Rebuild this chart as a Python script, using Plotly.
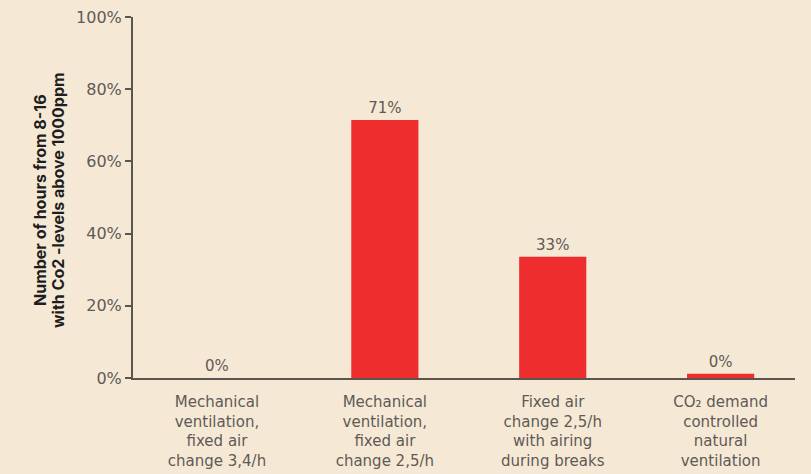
import plotly.graph_objects as go

categories = [
    "Mechanical<br>ventilation,<br>fixed air<br>change 3,4/h",
    "Mechanical<br>ventilation,<br>fixed air<br>change 2,5/h",
    "Fixed air<br>change 2,5/h<br>with airing<br>during breaks",
    "CO₂ demand<br>controlled<br>natural<br>ventilation",
]
values = [0, 71.5, 33.6, 1.2]
value_labels = ["0%", "71%", "33%", "0%"]
y_ticks = [0, 20, 40, 60, 80, 100]
y_tick_labels = ["0%", "20%", "40%", "60%", "80%", "100%"]
y_title_lines = ["Number of hours from 8-16", "with Co2 -levels above 1000ppm"]

BG = "#f5e9d5"
RED = "#ee2e2e"
GREY = "#5f5a55"
AXIS = "#5a554f"
FONT = "Inter, Roboto, sans-serif"
TXT_FONT = "'DejaVu Sans', Inter, sans-serif"

fig = go.Figure(
    go.Bar(
        x=list(range(len(categories))),
        y=values,
        text=value_labels,
        textposition="outside",
        cliponaxis=False,
        textfont=dict(size=15, color=GREY, family=TXT_FONT),
        marker=dict(color=RED, line=dict(width=0)),
        width=0.40,
    )
)

fig.update_layout(
    width=811,
    height=474,
    paper_bgcolor=BG,
    plot_bgcolor=BG,
    margin=dict(l=133, r=16, t=17, b=96, autoexpand=False),
    showlegend=False,
    font=dict(family=TXT_FONT, size=15, color=GREY),
)

fig.update_xaxes(
    tickmode="array",
    tickvals=list(range(len(categories))),
    ticktext=categories,
    range=[-0.5, 3.443],
    showline=True,
    linecolor=AXIS,
    linewidth=2,
    ticks="",
    ticklabelstandoff=9,
    showgrid=False,
    zeroline=False,
    tickfont=dict(size=15, color=GREY, family=TXT_FONT),
)

fig.update_yaxes(
    range=[0, 100],
    tickmode="array",
    tickvals=y_ticks,
    ticktext=y_tick_labels,
    showline=True,
    linecolor=AXIS,
    linewidth=2,
    ticks="outside",
    ticklen=6,
    tickwidth=1.5,
    tickcolor=AXIS,
    showgrid=False,
    zeroline=False,
    tickfont=dict(size=16, color=GREY, family=TXT_FONT),
)

# two-line rotated y-axis title, tighter line spacing than the built-in title
plot_w = 811 - 133 - 16
plot_h = 474 - 17 - 96
for px, line in zip([40, 58], y_title_lines):
    fig.add_annotation(
        text="<b>%s</b>" % line,
        xref="paper",
        yref="paper",
        x=(px - 133) / plot_w,
        y=(378 - 200) / plot_h,
        xanchor="center",
        yanchor="middle",
        textangle=-90,
        showarrow=False,
        font=dict(size=16, color="#1e1e1e", family=FONT),
    )

fig.write_html(
    "out.html",
    config={"displayModeBar": False},
    post_script="document.body.style.margin='0';document.body.style.background='%s';" % BG,
)
